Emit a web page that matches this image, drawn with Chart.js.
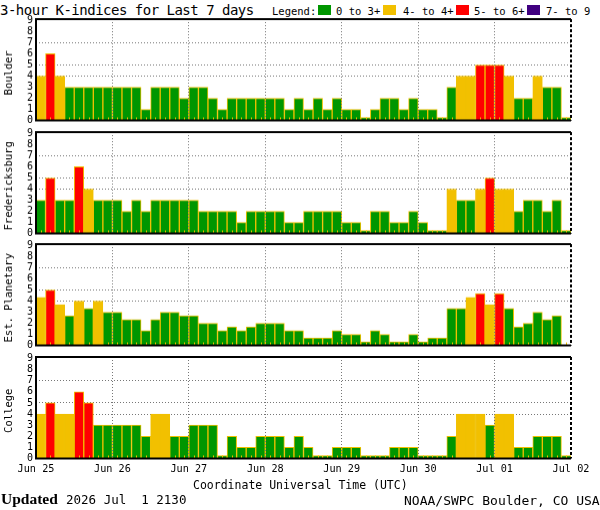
<!DOCTYPE html>
<html>
<head>
<meta charset="utf-8">
<title>3-hour K-indices</title>
<script src="https://cdn.jsdelivr.net/npm/chart.js@4.4.1/dist/chart.umd.min.js"></script>
<style>
  body { margin: 0; width: 600px; height: 510px; background: #fff; position: relative; overflow: hidden;
         font-family: "DejaVu Sans Mono", monospace; color: #000; }
  .t { position: absolute; white-space: pre; line-height: 1; }
  .sq { position: absolute; top: 5px; width: 13px; height: 10px; }
  .panel { position: absolute; left: 0; width: 600px; }
</style>
</head>
<body>
<div class="t" style="left:0;top:3.2px;font-size:14px;letter-spacing:-0.5px">3-hour K-indices for Last 7 days</div>

<div class="t" style="left:272px;top:6px;font-size:10.5px">Legend:</div>
<div class="sq" style="left:318px;background:#009600"></div>
<div class="t" style="left:336px;top:6px;font-size:10.5px">0 to 3+</div>
<div class="sq" style="left:383px;background:#f2c000"></div>
<div class="t" style="left:403px;top:6px;font-size:10.5px">4- to 4+</div>
<div class="sq" style="left:456px;background:#ff0000"></div>
<div class="t" style="left:474px;top:6px;font-size:10.5px">5- to 6+</div>
<div class="sq" style="left:527px;background:#400080"></div>
<div class="t" style="left:546px;top:6px;font-size:10.5px">7- to 9</div>

<div class="panel" id="p0"><canvas id="c0"></canvas></div>
<div class="panel" id="p1"><canvas id="c1"></canvas></div>
<div class="panel" id="p2"><canvas id="c2"></canvas></div>
<div class="panel" id="p3"><canvas id="c3"></canvas></div>

<div class="t" style="left:193px;top:479.5px;font-size:11.5px">Coordinate Universal Time (UTC)</div>
<div class="t" style="left:1px;top:491px;font-size:15.5px;font-family:'Liberation Serif',serif;font-weight:bold">Updated</div>
<div class="t" style="left:66px;top:493.5px;font-size:12.5px">2026 Jul  1 2130</div>
<div class="t" style="left:404px;top:494px;font-size:13px">NOAA/SWPC Boulder, CO USA</div>

<script>
// 3-hour slots, Jun 25 00 UT .. Jul 01 21 UT
var dayLabels = ['Jun 25', 'Jun 26', 'Jun 27', 'Jun 28', 'Jun 29', 'Jun 30', 'Jul 01', 'Jul 02'];
var stations = ['Boulder', 'Fredericksburg', 'Est. Planetary', 'College'];

var boulderK = [4,6,4,3,3,3,3,3, 3,3,3,1,3,3,3,2, 3,3,2,1,2,2,2,2, 2,2,1,2,1,2,1,2,
                1,1,0,1,2,2,1,2, 1,1,0,3,4,4,5,5, 5,4,2,2,4,3,3,0];
var fredericksburgK = [3,5,3,3,6,4,3,3, 3,2,3,2,3,3,3,3, 3,2,2,2,2,1,2,2, 2,2,1,1,2,2,2,2,
                       1,1,0,2,2,1,1,2, 1,0,0,4,3,3,4,5, 4,4,2,3,3,2,3,0];
var planetaryKp = [4.33,5,3.67,2.67,4,3.33,4,3, 3,2.33,2.33,1.33,2.33,3,3,2.67,
                   2.67,2,2,1.33,1.67,1.33,1.67,2, 2,2,1.33,1.33,0.67,0.67,0.67,1.33,
                   1,1,0.33,1.33,1,0.33,0.33,1, 0.33,0.67,0.67,3.33,3.33,4.33,4.67,3.67,
                   4.67,3.33,1.67,2,3,2.33,2.67,null];
var collegeK = [4,5,4,4,6,5,3,3, 3,3,3,2,4,4,2,2, 3,3,3,0,2,1,1,2, 2,2,1,2,1,0,0,1,
                1,1,0,0,0,1,1,1, 0,0,0,2,4,4,4,3, 4,4,1,1,2,2,2,0];
var allSeries = [boulderK, fredericksburgK, planetaryKp, collegeK];

var GREEN = '#009600', YELLOW = '#f2c000', RED = '#ff0000', PURPLE = '#400080';
var EDGE = '#f0c000';
var panelTops = [19, 132, 244.3, 356.5];
var plotH = 101.5;

function kColour(v) {
  if (v == null) return GREEN;
  if (v < 3.5) return GREEN;
  if (v < 4.5) return YELLOW;
  if (v < 6.5) return RED;
  return PURPLE;
}

var panelDeco = {
  id: 'panelDeco',
  afterDatasetsDraw: function(chart) {
    var ctx = chart.ctx, a = chart.chartArea, x = chart.scales.x;
    ctx.save();
    ctx.strokeStyle = EDGE;
    ctx.lineWidth = 1;
    for (var i = 0; i < 56; i++) {
      var px = Math.round(x.getPixelForValue(i + 0.5)) + 0.5;
      ctx.beginPath();
      ctx.moveTo(px, a.bottom);
      ctx.lineTo(px, a.bottom - 3);
      ctx.stroke();
    }
    ctx.restore();
  },
  afterDraw: function(chart, args, opts) {
    var ctx = chart.ctx, a = chart.chartArea;
    ctx.save();
    ctx.strokeStyle = '#000';
    ctx.lineWidth = 2;
    ctx.beginPath();
    ctx.moveTo(a.right, a.top); ctx.lineTo(a.left, a.top);
    ctx.lineTo(a.left, a.bottom); ctx.lineTo(a.right, a.bottom);
    ctx.stroke();
    ctx.setLineDash([3, 2]);
    ctx.beginPath();
    ctx.moveTo(a.right, a.top); ctx.lineTo(a.right, a.bottom);
    ctx.stroke();
    ctx.setLineDash([]);
    // station name down the left side
    ctx.translate(9, (a.top + a.bottom) / 2 + 3);
    ctx.rotate(-Math.PI / 2);
    ctx.fillStyle = '#000';
    ctx.font = '10.5px "DejaVu Sans Mono"';
    ctx.textAlign = 'center';
    ctx.textBaseline = 'middle';
    ctx.fillText(opts.label, 0, 0);
    ctx.restore();
  }
};

Chart.defaults.font.family = '"DejaVu Sans Mono", monospace';
Chart.defaults.color = '#000';

function makePanel(n) {
  var last = n == 3;
  var xh = last ? 20 : 0;
  var padB = last ? 2 : 8;
  var box = document.getElementById('p' + n);
  box.style.top = (panelTops[n] - 10) + 'px';
  box.style.height = (10 + plotH + xh + padB) + 'px';

  var vals = allSeries[n];
  new Chart(document.getElementById('c' + n).getContext('2d'), {
    type: 'bar',
    data: {
      datasets: [{
        data: vals.map(function(v, i) { return {x: i + 0.5, y: v}; }),
        backgroundColor: vals.map(kColour),
        borderColor: EDGE,
        borderWidth: 1,
        borderSkipped: 'bottom',
        barPercentage: 1,
        categoryPercentage: 1,
        minBarLength: 3
      }]
    },
    options: {
      responsive: true,
      maintainAspectRatio: false,
      animation: false,
      layout: { padding: { left: 0, right: 29, top: 10, bottom: padB } },
      plugins: {
        legend: { display: false },
        tooltip: { enabled: false },
        panelDeco: { label: stations[n] }
      },
      scales: {
        x: {
          type: 'linear',
          min: 0, max: 56,
          offset: false,
          afterFit: function(s) { s.height = xh; },
          ticks: {
            display: last,
            stepSize: 8,
            includeBounds: false,
            autoSkip: false,
            maxRotation: 0,
            padding: 5,
            font: { size: 10.2 },
            callback: function(v) { return dayLabels[v / 8]; }
          },
          grid: {
            offset: false,
            z: 1,
            drawTicks: false,
            lineWidth: 1,
            color: function(c) { return (c.tick && c.tick.value > 0 && c.tick.value < 56) ? '#777' : 'rgba(0,0,0,0)'; }
          },
          border: { display: false, dash: [1, 2] }
        },
        y: {
          min: 0, max: 9.13,
          afterFit: function(s) { s.width = 36; },
          ticks: {
            stepSize: 1,
            includeBounds: false,
            autoSkip: false,
            padding: 3,
            font: { size: 10 }
          },
          grid: {
            drawTicks: false,
            lineWidth: 1,
            color: function(c) { return (c.tick && [4, 5, 7].indexOf(c.tick.value) >= 0) ? '#777' : 'rgba(0,0,0,0)'; }
          },
          border: { display: false, dash: [1, 2] }
        }
      }
    },
    plugins: [panelDeco]
  });
}

for (var n = 0; n < 4; n++) makePanel(n);
</script>
</body>
</html>
